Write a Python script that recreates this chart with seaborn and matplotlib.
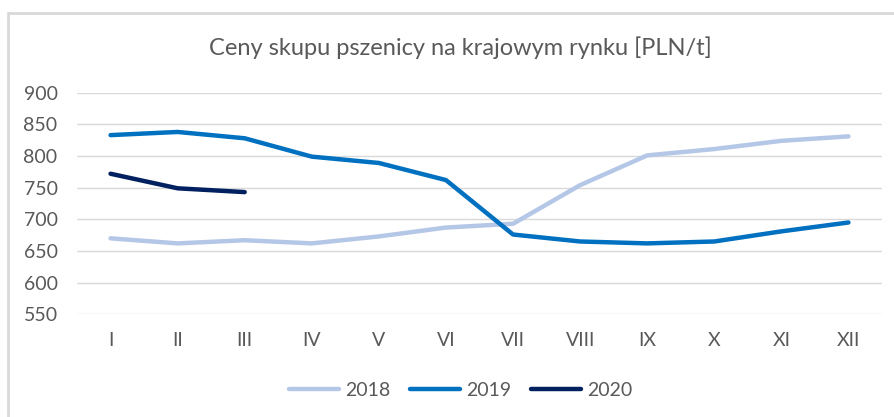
import matplotlib
matplotlib.use('Agg')
import pandas as pd
import matplotlib.pyplot as plt
from matplotlib.lines import Line2D
import seaborn as sns

# ----------------- values ----------------------------------------------------
MONTHS = ['I', 'II', 'III', 'IV', 'V', 'VI',
          'VII', 'VIII', 'IX', 'X', 'XI', 'XII']
PRICES_2018 = [670, 662, 667, 662, 673, 687, 693, 754, 801, 811, 824, 831]
PRICES_2019 = [833, 838, 828, 799, 789, 762, 676, 665, 662, 665, 681, 695]
PRICES_2020 = [772, 749, 743]
YEARS = ['2018', '2019', '2020']
COLORS = ['#B4C7E7', '#0070C0', '#002060']
Y_TICKS = [550, 600, 650, 700, 750, 800, 850, 900]

TEXT = '#595959'
GRID = '#D9D9D9'

# -----------------------------------------------------------------------------
rows = []
for year, vals in zip(YEARS, [PRICES_2018, PRICES_2019, PRICES_2020]):
    for i, v in enumerate(vals):
        rows.append({'month': i, 'price': v, 'year': year})
df = pd.DataFrame(rows)

sns.set_theme(style='white')
plt.rcParams['font.family'] = ['Lato', 'DejaVu Sans']

fig = plt.figure(figsize=(8.94, 4.17), dpi=100)
ax = fig.add_axes([77 / 894, 1 - 314.3 / 417, 805 / 894, 221.6 / 417])

sns.lineplot(data=df, x='month', y='price', hue='year', palette=COLORS,
             linewidth=3.2, ax=ax, legend=False, sort=False)

ax.set_xlim(-0.5, 11.5)
ax.set_ylim(550, 900)
ax.set_yticks(Y_TICKS)
ax.set_xticks(range(len(MONTHS)))
ax.set_xticklabels(MONTHS)
ax.tick_params(axis='both', colors=TEXT, labelsize=14, length=0)
ax.tick_params(axis='x', pad=13)
ax.tick_params(axis='y', pad=14)
ax.yaxis.grid(True, color=GRID, linewidth=1)
ax.set_axisbelow(True)
for s in ax.spines.values():
    s.set_visible(False)
ax.set_xlabel('')
ax.set_ylabel('')

fig.text(460 / 894, 1 - 48 / 417, 'Ceny skupu pszenicy na krajowym rynku [PLN/t]',
         ha='center', va='center', fontsize=17, color=TEXT)

handles = [Line2D([0], [0], color=c, linewidth=3.2) for c in COLORS]
fig.legend(handles, YEARS, loc='center', bbox_to_anchor=(0.515, 1 - 390 / 417),
           ncol=3, frameon=False, fontsize=14, labelcolor=TEXT,
           handlelength=2.6, handletextpad=0.3, columnspacing=1.0)

# outer chart border (top and left edges visible)
fig.add_artist(Line2D([8 / 894, 8 / 894], [0, 1 - 13 / 417],
                      transform=fig.transFigure, color=GRID, linewidth=2))
fig.add_artist(Line2D([8 / 894, 1], [1 - 13 / 417, 1 - 13 / 417],
                      transform=fig.transFigure, color=GRID, linewidth=2))

fig.savefig('out.png', dpi=100, facecolor='white')
